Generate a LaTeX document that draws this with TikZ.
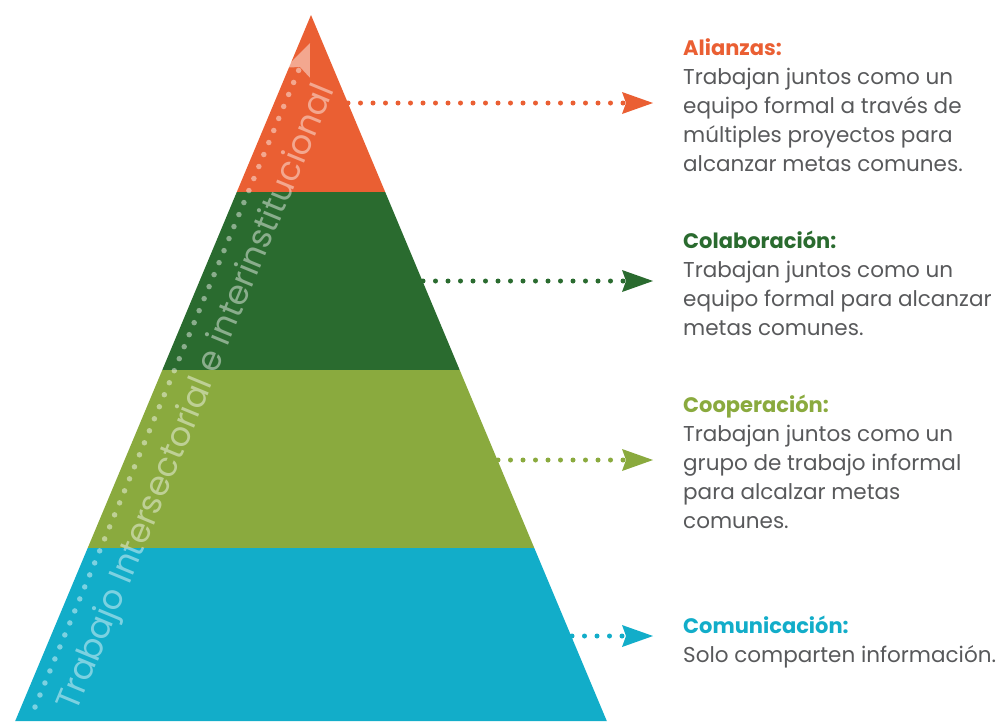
\documentclass[tikz,border=0pt]{standalone}
\usepackage{fontspec}
\setmainfont{Poppins}
\usetikzlibrary{arrows.meta}
\definecolor{alzorange}{HTML}{EA5F33}
\definecolor{coldark}{HTML}{2A6B2F}
\definecolor{coplight}{HTML}{8AAA3E}
\definecolor{comcyan}{HTML}{12ADC9}
\definecolor{bodygrey}{HTML}{58595B}
\newcommand{\levelhead}[2]{{\fontsize{21}{29}\selectfont\bfseries\color{#1}#2}}

\begin{document}
\begin{tikzpicture}[x=1pt,y=-1pt,
  dotline/.style={line width=5pt, line cap=round, dash pattern=on 0pt off 12.5pt,
    -{Stealth[length=31pt,width=22pt,inset=4pt,line width=0pt]}},
  levelbox/.style={anchor=base west, inner sep=0pt, align=left,
    font=\fontsize{21.5}{29}\selectfont, text=bodygrey}
]
\useasboundingbox (0,0) rectangle (998,721);

% pyramid layers
\fill[alzorange] (311,15) -- (385.2,192) -- (236.8,192) -- cycle;
\fill[coldark]   (236.8,192) -- (385.2,192) -- (459.7,370) -- (162.3,370) -- cycle;
\fill[coplight]  (162.3,370) -- (459.7,370) -- (534.3,548) -- (87.7,548) -- cycle;
\fill[comcyan]   (87.7,548) -- (534.3,548) -- (606.8,721) -- (15.2,721) -- cycle;

% rising dotted arrow and its caption
\coordinate (rise0) at (35,707);
\coordinate (rise1) at (310,43);
\draw[dotline, white, opacity=0.45, line width=5.5pt, dash pattern=on 0pt off 13pt,
      -{Stealth[length=32pt,width=26pt,inset=6pt,line width=0pt]}] (rise0) -- (rise1);
\node[rotate=67.5, anchor=mid, text=white, text opacity=0.45, inner sep=0pt,
      font=\fontsize{33.5}{36}\selectfont] (risecap) at (203,400)
  {Trabajo Intersectorial e interinstitucional};

% level descriptions (anchored on the baseline of their last line)
\node[levelbox] (alz) at (683,171)
  {\levelhead{alzorange}{Alianzas:}\\
   Trabajan juntos como un\\ equipo formal a través de\\
   múltiples proyectos para\\ alcanzar metas comunes.};
\node[levelbox] (col) at (683,335)
  {\levelhead{coldark}{Colaboración:}\\
   Trabajan juntos como un\\ equipo formal para alcanzar\\ metas comunes.};
\node[levelbox] (coo) at (683,528)
  {\levelhead{coplight}{Cooperación:}\\
   Trabajan juntos como un\\ grupo de trabajo informal\\
   para alcalzar metas\\ comunes.};
\node[levelbox] (com) at (683,662)
  {\levelhead{comcyan}{Comunicación:}\\
   Solo comparten información.};

% connectors from each level to its description
\coordinate (alzs) at (348,103);  \coordinate (alze) at (653,103);
\coordinate (cols) at (423,281);  \coordinate (cole) at (653,281);
\coordinate (coos) at (498,460);  \coordinate (cooe) at (653,460);
\coordinate (coms) at (572,636);  \coordinate (come) at (653,636);
\draw[dotline, alzorange] (alzs) -- (alze);
\draw[dotline, coldark]   (cols) -- (cole);
\draw[dotline, coplight]  (coos) -- (cooe);
\draw[dotline, comcyan]   (coms) -- (come);
\end{tikzpicture}
\end{document}
